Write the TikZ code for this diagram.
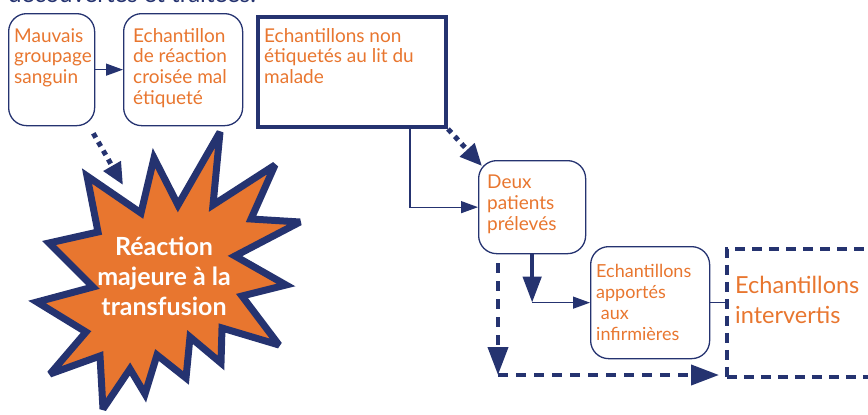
\documentclass[tikz,border=0pt]{standalone}
\usepackage{fontspec}
\setmainfont{Lato}
\usetikzlibrary{arrows.meta,calc}
\definecolor{navy}{RGB}{37,51,112}
\definecolor{orng}{RGB}{232,118,47}
\begin{document}
\begin{tikzpicture}[x=1pt,y=-1pt,
  rbox/.style={draw=navy,line width=1.3pt,rounded corners=18pt,inner sep=0pt,anchor=north west},
  txt/.style={anchor=north west,inner sep=0pt,text=orng,align=left,font=\fontsize{19}{20.7}\selectfont},
  thinarrow/.style={draw=navy,line width=1.3pt,-{Triangle[length=17pt,width=12pt]}},
  dotarrow/.style={draw=navy,line width=5pt,dash pattern=on 5pt off 5pt,-{Triangle[length=22pt,width=19pt]}},
  dasharrow/.style={draw=navy,line width=4pt,dash pattern=on 10pt off 8pt,-{Triangle[length=28pt,width=20pt]}},
  boldarrow/.style={draw=navy,line width=4.5pt,-{Triangle[length=26pt,width=18pt]}},
]
\useasboundingbox (0,0) rectangle (868,415);
\clip (0,0) rectangle (868,415);

% cut top line
\node[anchor=base west,inner sep=0pt,text=navy,font=\fontsize{24}{28}\selectfont] (top) at (8,2) {découvertes et traitées.};

% boxes
\node[rbox,minimum width=86pt,minimum height=112pt] (b1) at (8,13) {};
\node[txt] (t1) at (14,28) {Mauvais\\groupage\\sanguin};
\node[rbox,minimum width=119pt,minimum height=112pt] (b2) at (123,13) {};
\node[txt] (t2) at (133,28) {Echantillon\\de réaction\\croisée mal\\étiqueté};
\node[draw=navy,line width=4pt,inner sep=0pt,anchor=north west,minimum width=188pt,minimum height=110pt] (b3) at (256,15) {};
\node[txt] (t3) at (264,28) {Echantillons non\\étiquetés au lit du\\malade};
\node[rbox,minimum width=107pt,minimum height=93pt] (d) at (478,160) {};
\node[txt] (td) at (487,175) {Deux\\patients\\prélevés};
\node[rbox,minimum width=119pt,minimum height=112pt] (b4) at (590,246) {};
\node[txt,font=\fontsize{18}{21}\selectfont] (t4) at (596,264) {Echantillons\\apportés\\\ aux\\infirmières};
\node[draw=navy,line width=3.5pt,dash pattern=on 10pt off 7pt,inner sep=0pt,anchor=north west,minimum width=200pt,minimum height=128pt] (bx) at (725,247) {};
\node[txt,font=\fontsize{23.5}{30}\selectfont] (tx) at (735,276) {Echantillons\\intervertis};

% starburst
\draw[navy,fill=orng,line width=7pt,line join=miter,miter limit=3]
 (87,176) -- (141,213) -- (154,158) -- (178,205) -- (220,132) -- (213,205) -- (275,165) -- (251,219) -- (300,222)
 -- (235,256) -- (286,285) -- (242,296) -- (279,345) -- (222,328) -- (221,363) -- (190,337) -- (186,378)
 -- (157,355) -- (145,394) -- (130,369) -- (103,409) -- (100,356) -- (50,374) -- (86,332) -- (37,302)
 -- (93,287) -- (49,243) -- (98,232) -- cycle;
\node[text=white,align=center,font=\bfseries\fontsize{25}{30}\selectfont] (star) at (164,276) {Réaction\\majeure à la\\transfusion};

% connectors
\coordinate (k1) at (410,0);
\coordinate (s1) at (123,185);
\coordinate (k3) at (498,375);
\draw[thinarrow] (b1.east) -- (b2.west);
\draw[dotarrow] ($(b1.south east)+(-2,7)$) -- (s1);
\draw[thinarrow] (k1 |- b3.south) |- (d.west);
\draw[dotarrow] (b3.south east) -- ($(d.north west)+(4,6)$);
\coordinate (k2) at (d.south |- b4.west);
\draw[boldarrow] (d.south) -- (k2);
\draw[thinarrow] (k2) -- (b4.west);
\draw[navy,line width=1.3pt] (b4.east) -- (b4.east -| bx.west);
\draw[dasharrow] ($(k3 |- d.south)+(0,9)$) -- (k3);
\draw[dasharrow,shorten >=6pt] (k3) -- (k3 -| bx.west);
\end{tikzpicture}
\end{document}
